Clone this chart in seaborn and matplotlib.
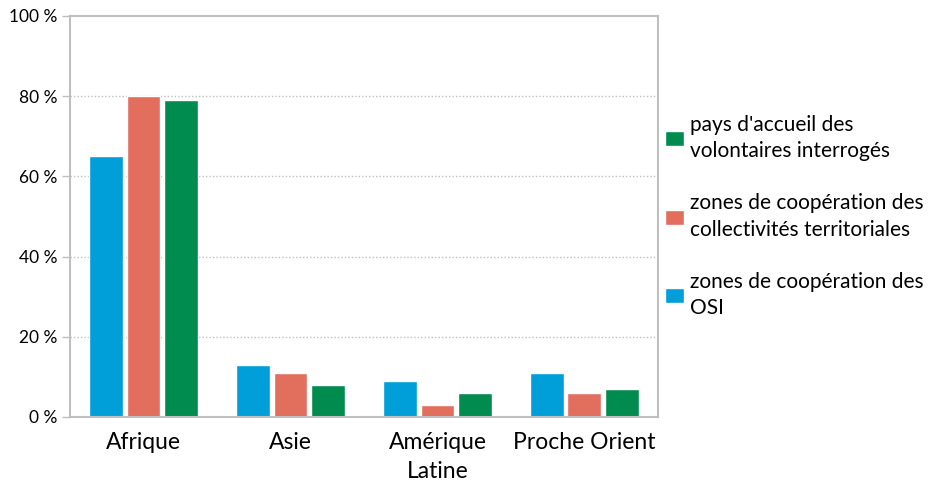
import pandas as pd
import numpy as np
import matplotlib
matplotlib.use('Agg')
import matplotlib.pyplot as plt
import seaborn as sns

# Données (en %)
regions = ['Afrique', 'Asie', 'Amérique\nLatine', 'Proche Orient']
series = ['zones de coopération des\nOSI',
          'zones de coopération des\ncollectivités territoriales',
          "pays d'accueil des\nvolontaires interrogés"]
osi = [65, 13, 9, 11]
collectivites = [80, 11, 3, 6]
volontaires = [79, 8, 6, 7]
yticks = [0, 20, 40, 60, 80, 100]

colors = ['#009FDA', '#E26E5E', '#008C4E']

df = pd.DataFrame({
    'region': regions * 3,
    'serie': [series[0]] * 4 + [series[1]] * 4 + [series[2]] * 4,
    'valeur': osi + collectivites + volontaires,
})

sns.set_theme(style='white')
plt.rcParams['font.family'] = ['Lato', 'DejaVu Sans']
plt.rcParams['text.color'] = 'black'
plt.rcParams['xtick.color'] = 'black'
plt.rcParams['ytick.color'] = 'black'

fig = plt.figure(figsize=(9.47, 4.95), dpi=100)
ax = fig.add_axes([0.0739, 0.1576, 0.6209, 0.8101])

sns.barplot(data=df, x='region', y='valeur', hue='serie', order=regions,
            hue_order=series, palette=colors, width=0.77, gap=0.1,
            saturation=1, ax=ax)

ax.set_ylim(0, 100)
ax.set_xlim(-0.5, 3.5)
ax.set_yticks(yticks)
ax.set_yticklabels([f'{v} %' for v in yticks], fontsize=12.5)
ax.tick_params(axis='x', labelsize=16.5, length=0, pad=11)
ax.tick_params(axis='y', length=6, width=1, color='#BFBFBF', pad=3, left=True)
for t in ax.get_xticklabels():
    t.set_linespacing(1.45)
ax.set_xlabel('')
ax.set_ylabel('')

for v in yticks[1:-1]:
    ax.axhline(v, color='#BFBFBF', linestyle=(0, (1, 1.5)), linewidth=1, zorder=0)
ax.set_axisbelow(True)

for s in ax.spines.values():
    s.set_visible(True)
    s.set_color('#BFBFBF')
    s.set_linewidth(1.5)

# légende dans l'ordre inverse
handles, labels = ax.get_legend_handles_labels()
leg = ax.legend(handles[::-1], labels[::-1], loc='center left',
                bbox_to_anchor=(1.012, 0.50), frameon=False, fontsize=15,
                handlelength=0.9, handleheight=0.72, handletextpad=0.3,
                labelspacing=1.55, borderaxespad=0, borderpad=0)
for t in leg.get_texts():
    t.set_linespacing(1.4)

fig.savefig('out.png', dpi=100)
